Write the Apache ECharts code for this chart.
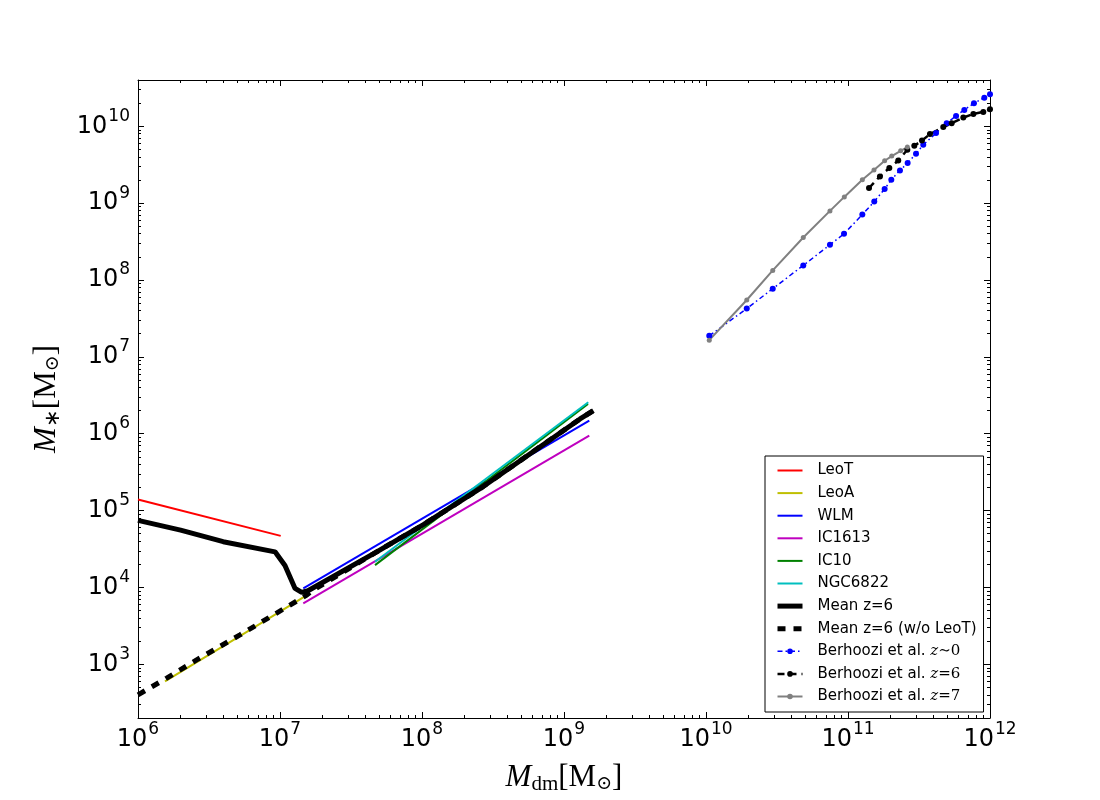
<!DOCTYPE html>
<html>
<head>
    <meta charset="utf-8">
    <title>M* vs Mdm</title>
    <script src="https://cdn.jsdelivr.net/npm/echarts@6/dist/echarts.min.js"></script>
    <style>
        html, body { margin: 0; padding: 0; background: #fff; }
        #chart { width: 1100px; height: 800px; }
    </style>
</head>
<body>
<div id="chart"></div>
<script type="text/javascript">
    // all values are log10 of the masses
    var X_MIN = 6, X_MAX = 12;
    var Y_MIN = Math.log10(200), Y_MAX = Math.log10(4e10);
    var xMajor = [6, 7, 8, 9, 10, 11, 12];
    var yMajor = [3, 4, 5, 6, 7, 8, 9, 10];

    var leoT_x = [6.0, 7.005];
    var leoT_y = [5.145, 4.671];
    var leoA_x = [6.19, 6.72, 7.19];
    var leoA_y = [2.777, 3.37, 3.90];
    var wlm_x = [7.164, 9.178];
    var wlm_y = [3.987, 6.170];
    var ic1613_x = [7.164, 9.178];
    var ic1613_y = [3.793, 5.976];
    var ic10_x = [7.669, 9.169];
    var ic10_y = [4.290, 6.387];
    var ngc6822_x = [7.669, 9.171];
    var ngc6822_y = [4.334, 6.409];
    var mean_x = [6.0, 6.3, 6.6, 6.965, 7.035, 7.106, 7.153, 7.197, 7.681, 8.01, 8.408, 9.113, 9.207];
    var mean_y = [4.873, 4.745, 4.595, 4.463, 4.286, 3.987, 3.935, 3.957, 4.463, 4.817, 5.284, 6.192, 6.30];
    var meanNoLeoT_x = [6.0, 6.202, 6.413, 6.718, 6.953, 7.188, 7.223, 7.681, 8.01, 8.408, 9.113, 9.207];
    var meanNoLeoT_y = [2.603, 2.82, 3.057, 3.382, 3.641, 3.90, 3.952, 4.463, 4.817, 5.284, 6.192, 6.30];
    var bz0_x = [10.023, 10.287, 10.470, 10.685, 10.873, 10.972, 11.101, 11.185, 11.258, 11.305, 11.366, 11.420, 11.479, 11.530, 11.620, 11.695, 11.761, 11.819, 11.887, 11.960, 12.0];
    var bz0_y = [7.273, 7.628, 7.887, 8.190, 8.458, 8.601, 8.851, 9.020, 9.184, 9.305, 9.426, 9.522, 9.642, 9.759, 9.911, 10.040, 10.135, 10.213, 10.300, 10.372, 10.416];
    var bz6_x = [11.148, 11.225, 11.291, 11.354, 11.418, 11.467, 11.521, 11.577, 11.671, 11.730, 11.812, 11.883, 11.953, 12.0];
    var bz6_y = [9.197, 9.348, 9.457, 9.555, 9.694, 9.746, 9.815, 9.898, 9.989, 10.040, 10.113, 10.161, 10.187, 10.222];
    var bz7_x = [10.023, 10.287, 10.470, 10.685, 10.873, 10.974, 11.101, 11.183, 11.258, 11.308, 11.371, 11.418];
    var bz7_y = [7.217, 7.740, 8.125, 8.553, 8.899, 9.081, 9.305, 9.431, 9.551, 9.612, 9.681, 9.729];

    function pairs(xs, ys) {
        return xs.map(function (x, i) { return [x, ys[i]]; });
    }
    // log minor ticks at 2..9 x 10^n
    function minorTicks(lo, hi) {
        var out = [];
        for (var n = Math.floor(lo); n < hi; n++) {
            for (var k = 2; k <= 9; k++) {
                var v = n + Math.log10(k);
                if (v > lo && v < hi) out.push(v);
            }
        }
        return out;
    }
    var xMinor = minorTicks(X_MIN, X_MAX);
    var yMinor = minorTicks(Y_MIN, Y_MAX);

    var tickRich = {
        b: { fontFamily: 'DejaVu Sans', fontSize: 24, color: '#000' },
        e: { fontFamily: 'DejaVu Sans', fontSize: 17, color: '#000', padding: [0, 0, 20, 1] }
    };
    function powLabel(v) {
        return '{b|10}{e|' + Math.round(v) + '}';
    }
    var mathRich = {
        i: { fontFamily: 'Liberation Serif', fontStyle: 'italic', fontSize: 31, color: '#000' },
        r: { fontFamily: 'Liberation Serif', fontSize: 31, color: '#000' },
        s: { fontFamily: 'Liberation Serif', fontSize: 21, color: '#000', padding: [13, 0, 0, 0] },
        o: { fontFamily: 'DejaVu Serif', fontSize: 19, color: '#000', padding: [13, 0, 0, 0] }
    };

    function axisX(pos, ticks, len, main) {
        return {
            type: 'value', position: pos, min: X_MIN, max: X_MAX,
            axisLine: { show: main, onZero: false, lineStyle: { color: '#000', width: 1 } },
            axisTick: { show: true, inside: true, length: len, customValues: ticks, lineStyle: { color: '#000', width: 1 } },
            axisLabel: { show: false },
            splitLine: { show: false }
        };
    }
    function axisY(pos, ticks, len, main) {
        return {
            type: 'value', position: pos, min: Y_MIN, max: Y_MAX,
            axisLine: { show: main, onZero: false, lineStyle: { color: '#000', width: 1 } },
            axisTick: { show: true, inside: true, length: len, customValues: ticks, lineStyle: { color: '#000', width: 1 } },
            axisLabel: { show: false },
            splitLine: { show: false }
        };
    }

    var xBottom = axisX('bottom', xMajor, 6, true);
    xBottom.axisLabel = { show: true, customValues: xMajor, formatter: powLabel, rich: tickRich, margin: 3 };
    xBottom.name = '{i|M}{s|dm}{r|[M}{o|⊙}{r|]}';
    xBottom.nameLocation = 'middle';
    xBottom.nameGap = 43;
    xBottom.nameTextStyle = { rich: mathRich };

    var yLeft = axisY('left', yMajor, 6, true);
    yLeft.axisLabel = { show: true, customValues: yMajor, formatter: powLabel, rich: tickRich, margin: 8 };
    yLeft.name = '{i|M}{s|∗}{r|[M}{o|⊙}{r|]}';
    yLeft.nameLocation = 'middle';
    yLeft.nameGap = 74;
    yLeft.nameRotate = 90;
    yLeft.nameTextStyle = { rich: mathRich };

    var legendNames = {
        'Berhoozi et al. z~0': '{mi|z}{mr|∼0}',
        'Berhoozi et al. z=6': '{mi|z}{mr|=6}',
        'Berhoozi et al. z=7': '{mi|z}{mr|=7}'
    };

    function lineSeries(name, xs, ys, color, width, type) {
        return {
            name: name, type: 'line', data: pairs(xs, ys),
            xAxisIndex: 0, yAxisIndex: 0,
            showSymbol: false, symbol: 'none',
            lineStyle: { color: color, width: width, type: type || 'solid', cap: 'butt' },
            itemStyle: { color: color },
            emphasis: { disabled: true }
        };
    }
    function markerSeries(name, xs, ys, color, width, type, size) {
        var s = lineSeries(name, xs, ys, color, width, type);
        s.symbol = 'circle';
        s.showSymbol = true;
        s.symbolSize = size;
        s.itemStyle = { color: color, borderWidth: 0 };
        return s;
    }

    var series = [
        lineSeries('LeoT', leoT_x, leoT_y, '#ff0000', 2),
        lineSeries('LeoA', leoA_x, leoA_y, '#bfbf00', 2),
        lineSeries('WLM', wlm_x, wlm_y, '#0000ff', 2),
        lineSeries('IC1613', ic1613_x, ic1613_y, '#bf00bf', 2),
        lineSeries('IC10', ic10_x, ic10_y, '#008000', 2),
        lineSeries('NGC6822', ngc6822_x, ngc6822_y, '#00bfbf', 2),
        lineSeries('Mean z=6', mean_x, mean_y, '#000000', 5),
        lineSeries('Mean z=6 (w/o LeoT)', meanNoLeoT_x, meanNoLeoT_y, '#000000', 5, [8, 8]),
        markerSeries('Berhoozi et al. z~0', bz0_x, bz0_y, '#0000ff', 1.5, [5, 3, 1.5, 3], 6),
        markerSeries('Berhoozi et al. z=6', bz6_x, bz6_y, '#000000', 2.5, [7, 5], 6),
        markerSeries('Berhoozi et al. z=7', bz7_x, bz7_y, '#808080', 2, 'solid', 5)
    ];

    // legend entries follow each series' own line width; plain lines get no dot
    var legendData = series.map(function (s) {
        return {
            name: s.name,
            lineStyle: { width: s.lineStyle.width },
            itemStyle: { opacity: s.showSymbol ? 1 : 0 }
        };
    });

    var myChart = echarts.init(document.getElementById('chart'));
    var option = {
        backgroundColor: '#fff',
        animation: false,
        grid: { left: 138, right: 110, top: 80, bottom: 80 },
        xAxis: [xBottom, axisX('bottom', xMinor, 3, false), axisX('top', xMajor, 6, true), axisX('top', xMinor, 3, false)],
        yAxis: [yLeft, axisY('left', yMinor, 3, false), axisY('right', yMajor, 6, true), axisY('right', yMinor, 3, false)],
        legend: {
            orient: 'vertical', left: 765, top: 456,
            data: legendData,
            itemWidth: 25, itemHeight: 7, itemGap: 7.6,
            padding: [7, 7, 8, 10],
            backgroundColor: '#fff', borderColor: '#000', borderWidth: 1, borderRadius: 0,
            selectedMode: false,
            textStyle: {
                fontFamily: 'DejaVu Sans', fontSize: 15, color: '#000', lineHeight: 14,
                rich: {
                    g: { width: 10, height: 14, lineHeight: 14 },
                    t: { fontFamily: 'DejaVu Sans', fontSize: 15, color: '#000', height: 14, lineHeight: 14 },
                    mi: { fontFamily: 'DejaVu Serif', fontStyle: 'italic', fontSize: 15, color: '#000', height: 14, lineHeight: 14 },
                    mr: { fontFamily: 'DejaVu Serif', fontSize: 15, color: '#000', height: 14, lineHeight: 14 }
                }
            },
            formatter: function (name) {
                if (legendNames[name]) return '{g| }{t|Berhoozi et al. }' + legendNames[name];
                return '{g| }{t|' + name + '}';
            }
        },
        series: series
    };
    myChart.setOption(option);
</script>
</body>
</html>
